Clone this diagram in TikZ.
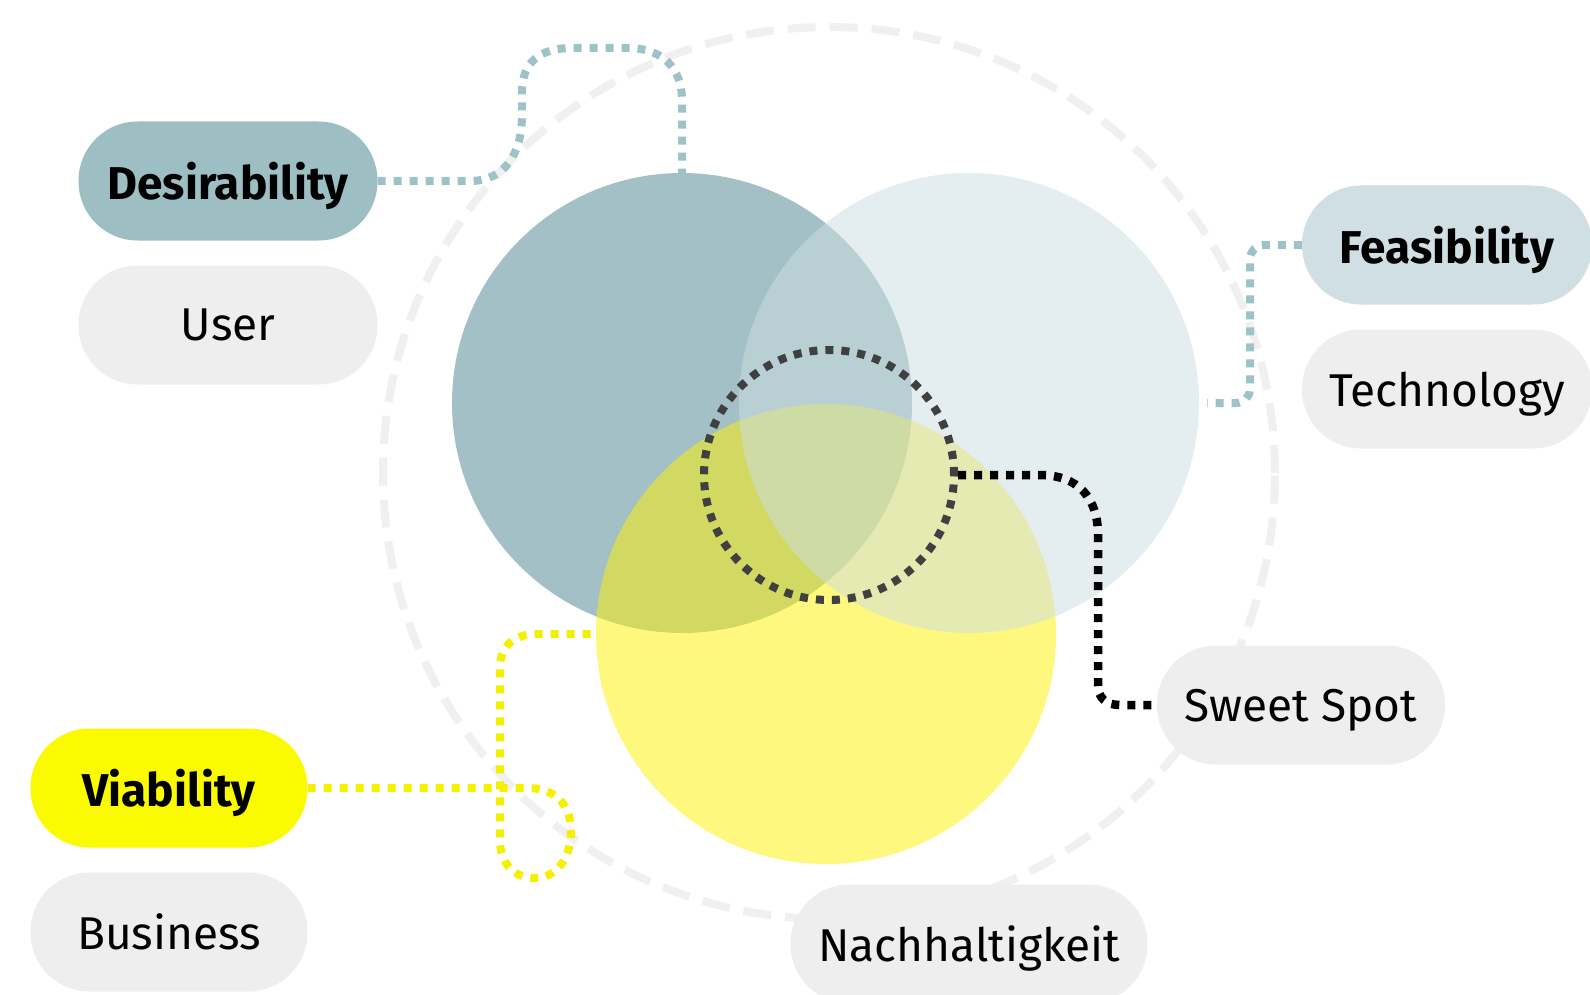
\documentclass[tikz,border=0pt]{standalone}
\usepackage{fontspec}
\setmainfont{Fira Sans}
\usepackage{tikz}

\definecolor{desteal}{RGB}{157,191,196}
\definecolor{circteal}{RGB}{163,192,198}
\definecolor{feablue}{RGB}{208,223,228}
\definecolor{circblue}{RGB}{205,222,226}
\definecolor{viayell}{RGB}{250,250,0}
\definecolor{tagray}{RGB}{238,238,238}
\definecolor{ringgray}{RGB}{240,240,240}
\definecolor{tealdot}{RGB}{157,194,200}
\definecolor{yelldot}{RGB}{245,240,0}
\definecolor{ssgray}{RGB}{64,64,64}

\begin{document}
\begin{tikzpicture}[x=1pt,y=-1pt,node distance=144pt]
\tikzstyle{pill}=[rounded corners=59pt,minimum height=119pt,inner sep=0pt,text depth=0pt,text=black,font=\fontsize{46}{54}\selectfont]
\tikzstyle{title}=[pill,font=\fontsize{46}{54}\selectfont\bfseries]
\tikzstyle{tag}=[pill,fill=tagray]
\tikzstyle{blob}=[circle,minimum size=460pt,inner sep=0pt,outer sep=0pt]
\tikzstyle{dots}=[line width=8pt,dash pattern=on 8pt off 8pt]
\useasboundingbox (0,0) rectangle (1590,995);
\fill[white] (0,0) rectangle (1590,995);

% outer ring
\node[circle,draw=ringgray,line width=8pt,dash pattern=on 28pt off 14pt,minimum size=892pt] (ring) at (829,473) {};

% venn
\node[blob,fill=circteal] (cD) at (682,403) {};
\node[blob,fill=yellow,fill opacity=0.5] (cV) at (826,634) {};
\node[blob,fill=circblue,fill opacity=0.52] (cF) at (969,403) {};

% labels
\node[title,fill=desteal,minimum width=299pt] (des) at (228,181) {Desirability};
\node[tag,minimum width=299pt][below of=des] (user) {User};
\node[title,fill=feablue,minimum width=290pt] (fea) at (1447,245) {Feasibility};
\node[tag,minimum width=290pt][below of=fea] (tech) {Technology};
\node[title,fill=viayell,minimum width=277pt] (via) at (169,788) {Viability};
\node[tag,minimum width=277pt][below of=via] (bus) {Business};
\node[tag,minimum width=288pt] (sweet) at (1301,705) {Sweet Spot};
\node[tag,minimum width=357pt] (nach) at (969,944) {Nachhaltigkeit};

\coordinate (fEnd) at (1207,403);

% connectors
\draw[dots,tealdot] (des.east) -- (470,181) .. controls (506,181) and (522,152) .. (522,115) -- (522,92) .. controls (522,62) and (540,48) .. (572,48) -- (628,48) .. controls (662,48) and (682,68) .. (682,100) -- (cD.north);
\draw[dots,tealdot,rounded corners=14pt] (fea.west) -- (1250,245) -- (1250,403) -- (fEnd);
\draw[dots,yelldot] (via.east) -- (527,788) .. controls (556,788) and (571,805) .. (571,831) .. controls (571,860) and (555,878) .. (535,878) .. controls (513,878) and (500,862) .. (500,840) -- (500,668) .. controls (500,646) and (514,634) .. (537,634) -- (cV.west);

% sweet spot
\node[circle,draw=ssgray,dots,minimum size=250pt] (ss) at (829,475) {};
\draw[dots,black,line width=8.5pt] (ss.east) -- (1040,475) .. controls (1078,475) and (1098,498) .. (1098,535) -- (1098,685) .. controls (1098,698) and (1106,705) .. (1120,705) -- (sweet.west);
\end{tikzpicture}
\end{document}
